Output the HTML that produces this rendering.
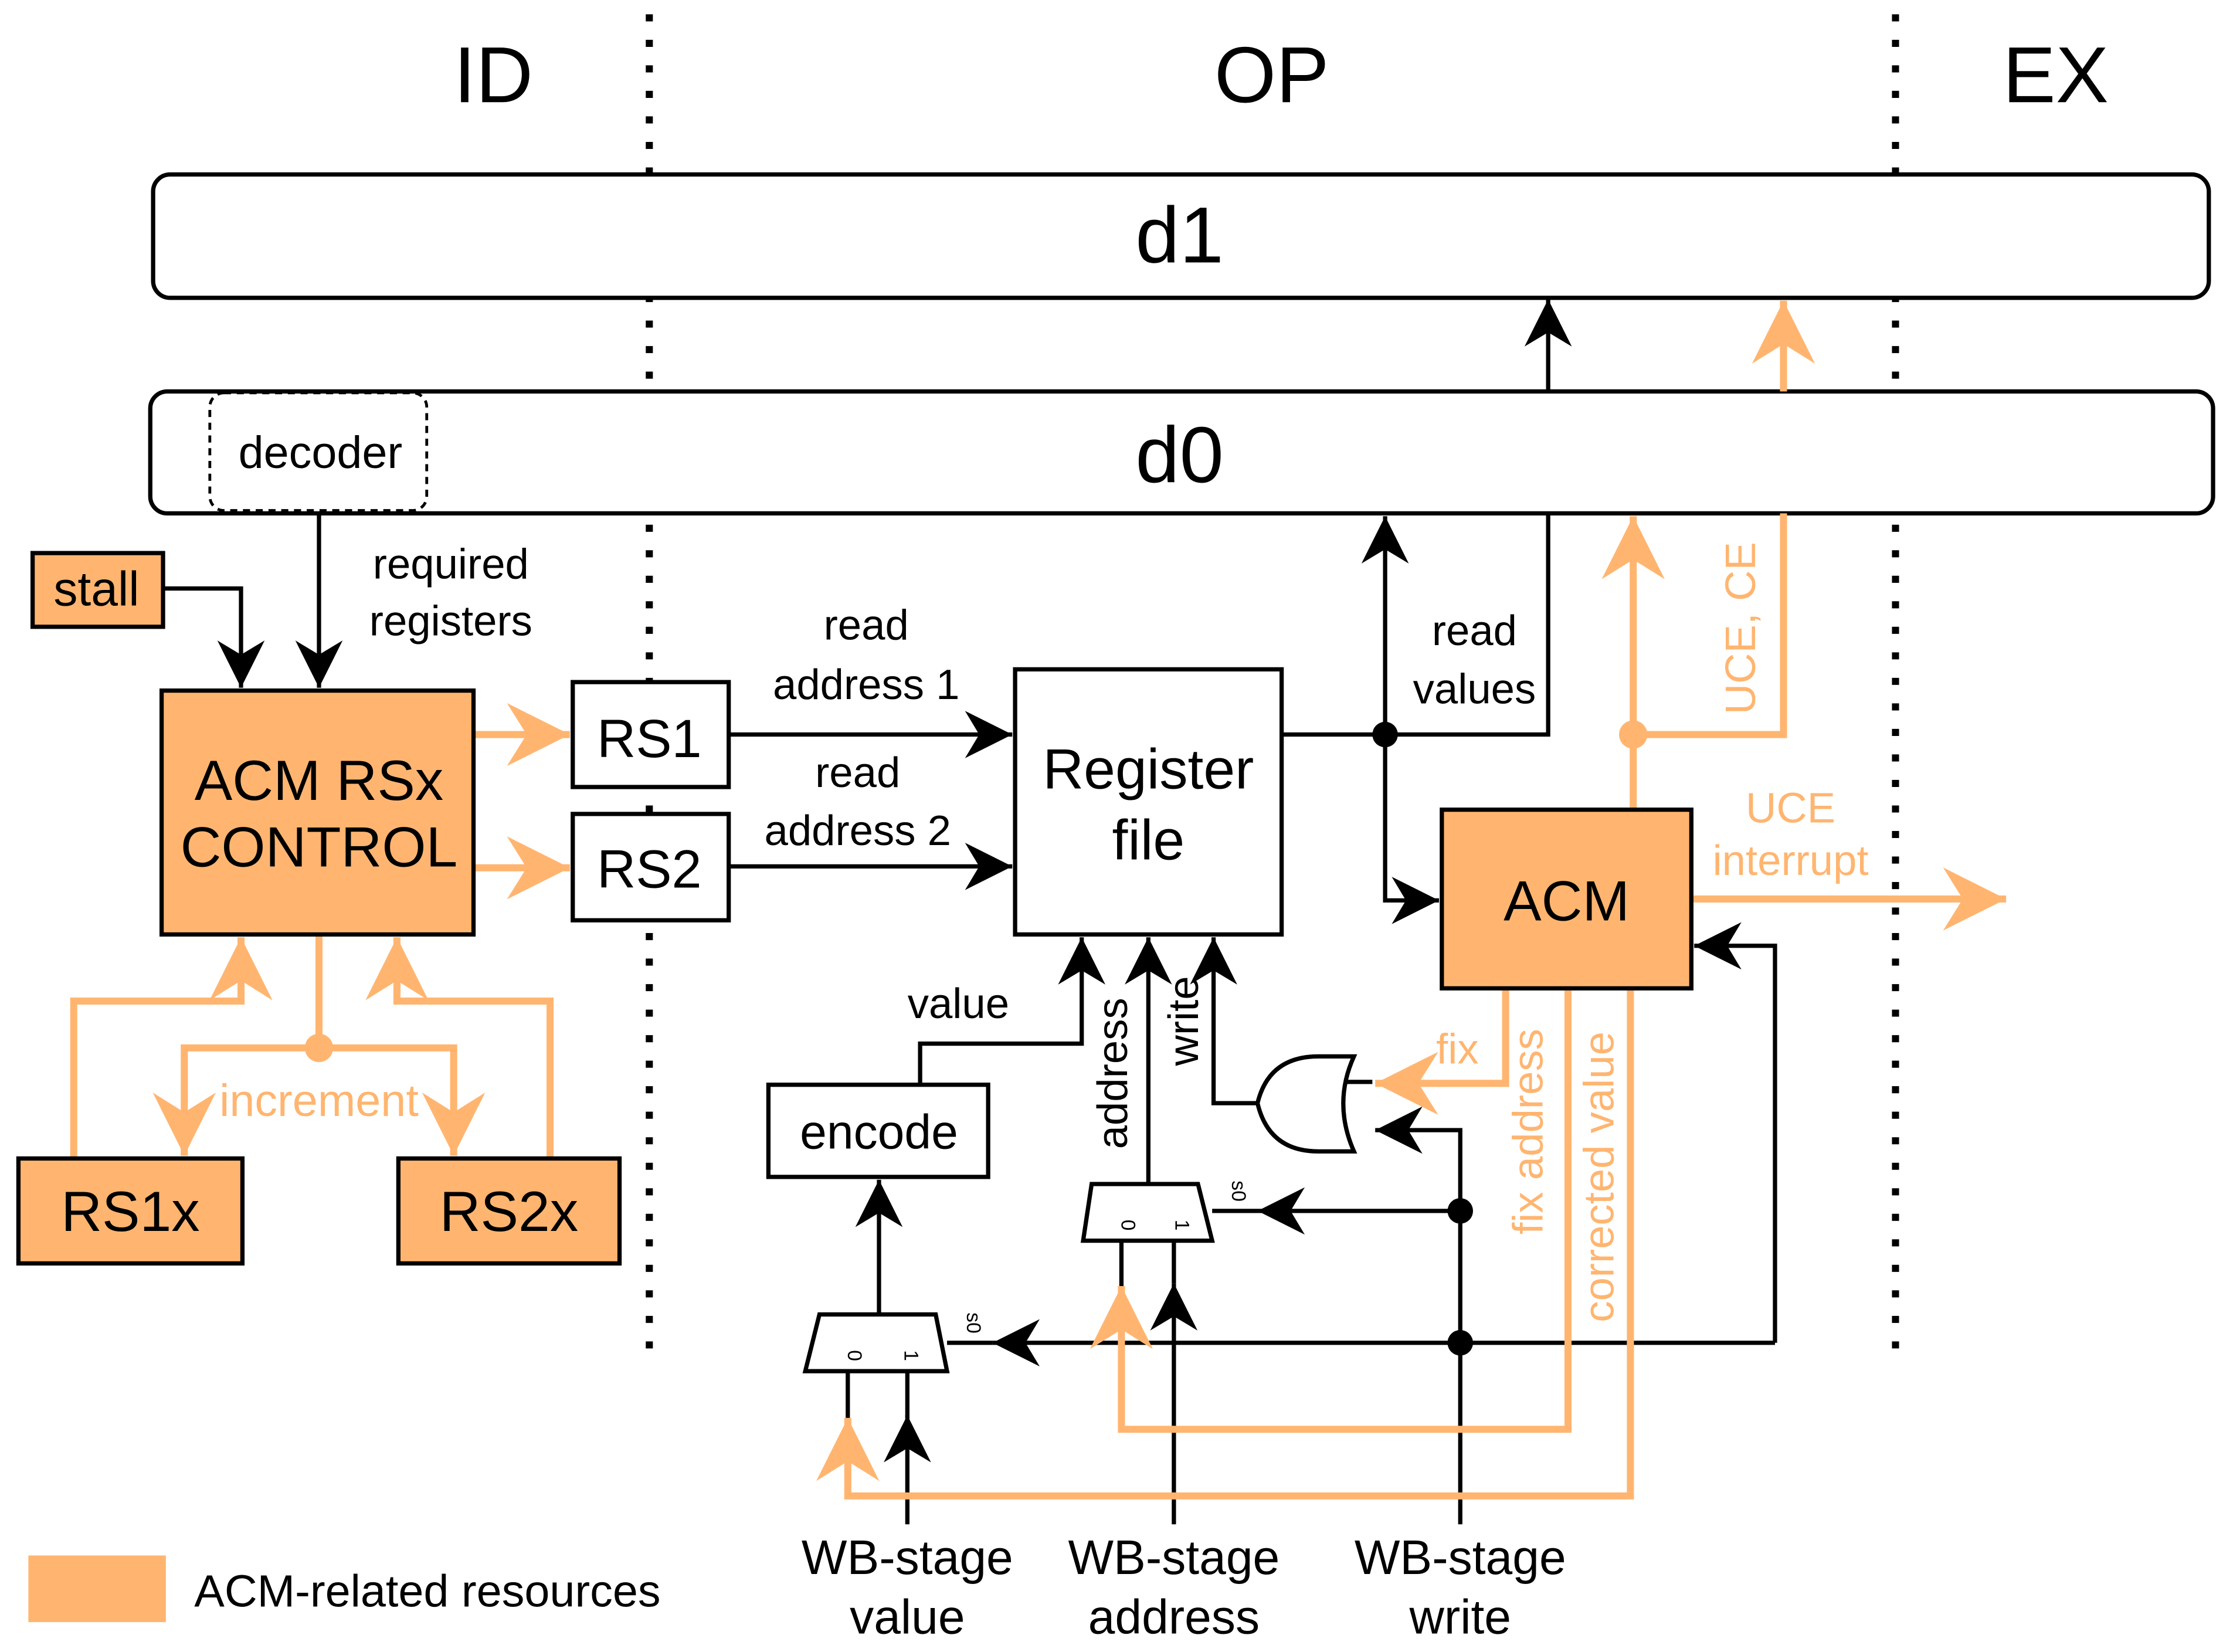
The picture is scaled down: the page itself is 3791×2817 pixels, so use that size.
<!DOCTYPE html>
<html><head><meta charset="utf-8"><style>
html,body{margin:0;padding:0;background:#fff;}
svg{display:block;}
text{font-family:"Liberation Sans",sans-serif;}
</style></head><body>
<svg width="3791" height="2817" viewBox="0 0 1568 1165" xmlns="http://www.w3.org/2000/svg">
<defs>
<marker id="ab" markerUnits="userSpaceOnUse" markerWidth="40" markerHeight="40" viewBox="-22 -12 24 24" refX="0" refY="0" orient="auto">
<path d="M0,0 L-20,-10 L-14,0 L-20,10 z" fill="#000"/></marker>
<marker id="ao" markerUnits="userSpaceOnUse" markerWidth="50" markerHeight="50" viewBox="-34 -18 36 36" refX="0" refY="0" orient="auto">
<path d="M0,0 L-32,-16 L-22,0 L-32,16 z" fill="#FFB570"/></marker>
</defs>
<rect width="1568" height="1165" fill="#fff"/>
<g font-size="56" text-anchor="middle" fill="#000">
<text x="348" y="72">ID</text><text x="897" y="72">OP</text><text x="1450" y="72">EX</text></g>
<g stroke="#000" stroke-width="5" stroke-dasharray="5,13">
<line x1="458" y1="10" x2="458" y2="960"/><line x1="1337" y1="10" x2="1337" y2="960"/></g>
<rect x="108" y="123" width="1450" height="87" rx="12" fill="#fff" stroke="#000" stroke-width="3"/>
<text x="832" y="185" font-size="56" text-anchor="middle">d1</text>
<rect x="106" y="276" width="1455" height="86" rx="12" fill="#fff" stroke="#000" stroke-width="3"/>
<text x="832" y="340" font-size="56" text-anchor="middle">d0</text>
<rect x="148" y="277" width="153" height="83" rx="10" fill="none" stroke="#000" stroke-width="2" stroke-dasharray="5,4"/>
<text x="226" y="330" font-size="32" text-anchor="middle">decoder</text>
<g stroke="#000" stroke-width="3" fill="none">
<path d="M115,415 H170 V485" marker-end="url(#ab)"/>
<path d="M225,362 V485" marker-end="url(#ab)"/>
<path d="M514,518 H714" marker-end="url(#ab)"/>
<path d="M514,611 H714" marker-end="url(#ab)"/>
<path d="M904,518 H1092 V362"/>
<path d="M1092,276 V211" marker-end="url(#ab)"/>
<path d="M977,518 V364" marker-end="url(#ab)"/>
<path d="M977,518 V635 H1015" marker-end="url(#ab)"/>
<path d="M1252,947 V667 H1195" marker-end="url(#ab)"/>
<path d="M1252,947 H700" marker-end="url(#ab)"/>
<line x1="668" y1="947" x2="700" y2="947"/>
<path d="M1030,854 H887" marker-end="url(#ab)"/>
<line x1="855" y1="854" x2="887" y2="854"/>
<path d="M1030,1075 V797 H970" marker-end="url(#ab)"/>
<path d="M887,778 H856 V661" marker-end="url(#ab)"/>
<path d="M810,835 V661" marker-end="url(#ab)"/>
<path d="M649,765 V736 H763 V661" marker-end="url(#ab)"/>
<path d="M620,927 V832" marker-end="url(#ab)"/>
<path d="M640,1075 V998" marker-end="url(#ab)"/>
<path d="M828,1075 V905" marker-end="url(#ab)"/>
<line x1="598" y1="967" x2="598" y2="1000"/>
<line x1="640" y1="967" x2="640" y2="1000"/>
<line x1="791" y1="875" x2="791" y2="910"/>
<line x1="828" y1="875" x2="828" y2="905"/>
<line x1="948" y1="763" x2="968" y2="763"/>
</g>
<g fill="#000"><circle cx="977" cy="518" r="9"/><circle cx="1030" cy="854" r="9"/><circle cx="1030" cy="947" r="9"/></g>
<g stroke="#FFB570" stroke-width="5" fill="none">
<path d="M334,518 H402" marker-end="url(#ao)"/>
<path d="M334,612 H402" marker-end="url(#ao)"/>
<path d="M52,817 V706 H170 V661" marker-end="url(#ao)"/>
<path d="M388,817 V706 H280 V661" marker-end="url(#ao)"/>
<path d="M225,659 V739 H130 V815" marker-end="url(#ao)"/>
<path d="M225,739 H320 V815" marker-end="url(#ao)"/>
<path d="M1152,571 V364" marker-end="url(#ao)"/>
<path d="M1152,518 H1258 V362"/>
<path d="M1258,276 V212" marker-end="url(#ao)"/>
<path d="M1193,634 H1415" marker-end="url(#ao)"/>
<path d="M1062,697 V764 H970" marker-end="url(#ao)"/>
<path d="M1106,697 V1008 H791 V907" marker-end="url(#ao)"/>
<path d="M1150,697 V1055 H598 V1000" marker-end="url(#ao)"/>
</g>
<g fill="#FFB570"><circle cx="225" cy="739" r="10"/><circle cx="1152" cy="518" r="10"/></g>
<g stroke="#000" stroke-width="3">
<rect x="23" y="390" width="92" height="52" fill="#FFB570"/>
<rect x="114" y="487" width="220" height="172" fill="#FFB570"/>
<rect x="13" y="817" width="158" height="74" fill="#FFB570"/>
<rect x="281" y="817" width="156" height="74" fill="#FFB570"/>
<rect x="1017" y="571" width="176" height="126" fill="#FFB570"/>
<rect x="404" y="481" width="110" height="74" fill="#fff"/>
<rect x="404" y="574" width="110" height="75" fill="#fff"/>
<rect x="716" y="472" width="188" height="187" fill="#fff"/>
<rect x="542" y="765" width="155" height="65" fill="#fff"/>
<path d="M578,927 H660 L668,967 H568 Z" fill="#fff"/>
<path d="M770,835 H845 L855,875 H764 Z" fill="#fff"/>
<path d="M955,745 H930 Q895,745 887,778 Q895,812 930,812 H955 Q940,778 955,745 Z" fill="#fff"/>
</g>
<rect x="20" y="1097" width="97" height="47" fill="#FFB570"/>
<g fill="#000" text-anchor="middle">
<text x="68" y="427" font-size="34">stall</text>
<text x="318" y="408" font-size="30">required</text>
<text x="318" y="448" font-size="30">registers</text>
<text x="225" y="564" font-size="40">ACM RSx</text>
<text x="225" y="611" font-size="40">CONTROL</text>
<text x="92" y="868" font-size="40">RS1x</text>
<text x="359" y="868" font-size="40">RS2x</text>
<text x="458" y="534" font-size="38">RS1</text>
<text x="458" y="626" font-size="38">RS2</text>
<text x="611" y="451" font-size="30">read</text>
<text x="611" y="493" font-size="30">address 1</text>
<text x="605" y="555" font-size="30">read</text>
<text x="605" y="596" font-size="30">address 2</text>
<text x="810" y="556" font-size="40">Register</text>
<text x="810" y="606" font-size="40">file</text>
<text x="1040" y="455" font-size="30">read</text>
<text x="1040" y="496" font-size="30">values</text>
<text x="1105" y="649" font-size="40">ACM</text>
<text x="620" y="810" font-size="34">encode</text>
<text x="676" y="718" font-size="30">value</text>
<text x="795" y="757" font-size="30" transform="rotate(-90 795 757)">address</text>
<text x="845" y="720" font-size="30" transform="rotate(-90 845 720)">write</text>
<text x="640" y="1110" font-size="34">WB-stage</text><text x="640" y="1152" font-size="34">value</text>
<text x="828" y="1110" font-size="34">WB-stage</text><text x="828" y="1152" font-size="34">address</text>
<text x="1030" y="1110" font-size="34">WB-stage</text><text x="1030" y="1152" font-size="34">write</text>
<text x="598" y="956" font-size="14" transform="rotate(90 598 956)">0</text>
<text x="638" y="956" font-size="14" transform="rotate(90 638 956)">1</text>
<text x="682" y="933" font-size="14" transform="rotate(90 682 933)">s0</text>
<text x="791" y="864" font-size="14" transform="rotate(90 791 864)">0</text>
<text x="829" y="864" font-size="14" transform="rotate(90 829 864)">1</text>
<text x="869" y="840" font-size="14" transform="rotate(90 869 840)">s0</text>
</g>
<text x="137" y="1133" font-size="32" fill="#000">ACM-related resources</text>
<g fill="#FFB570" text-anchor="middle">
<text x="225" y="787" font-size="32">increment</text>
<text x="1263" y="580" font-size="30">UCE</text>
<text x="1263" y="617" font-size="30">interrupt</text>
<text x="1028" y="750" font-size="30">fix</text>
<text x="1238" y="443" font-size="30" transform="rotate(-90 1238 443)">UCE, CE</text>
<text x="1088" y="798" font-size="30" transform="rotate(-90 1088 798)">fix address</text>
<text x="1138" y="830" font-size="30" transform="rotate(-90 1138 830)">corrected value</text>
</g>
</svg>
</body></html>
